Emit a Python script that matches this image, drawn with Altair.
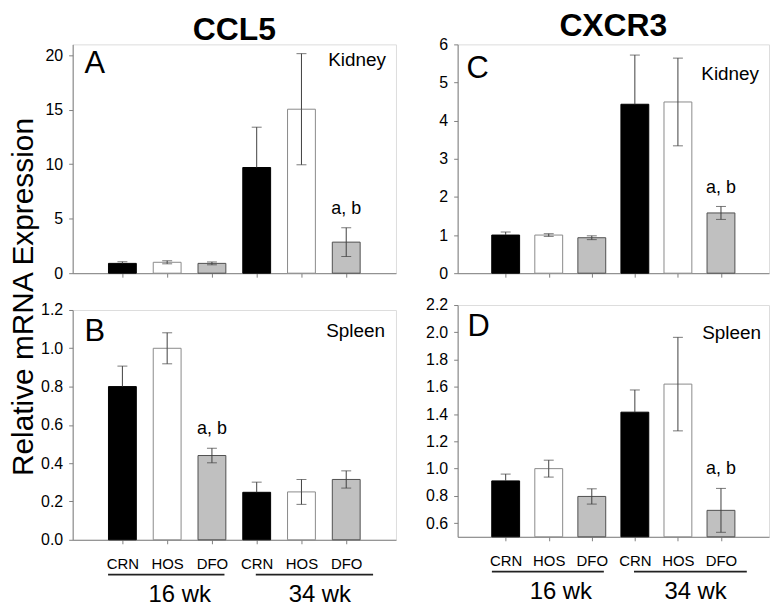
import altair as alt
import pandas as pd

# ---------------- data ----------------
positions = [1, 2, 3, 4, 5, 6]
treatments = ["CRN", "HOS", "DFO", "CRN", "HOS", "DFO"]
weeks = ["16 wk", "16 wk", "16 wk", "34 wk", "34 wk", "34 wk"]

ccl5_kidney_mean = [0.90, 1.00, 0.90, 9.70, 15.05, 2.85]
ccl5_kidney_err = [0.15, 0.14, 0.13, 3.70, 5.10, 1.32]
ccl5_kidney_sig = ["", "", "", "", "", "a, b"]

ccl5_spleen_mean = [0.80, 1.00, 0.44, 0.248, 0.25, 0.315]
ccl5_spleen_err = [0.107, 0.081, 0.038, 0.053, 0.065, 0.045]
ccl5_spleen_sig = ["", "", "a, b", "", "", ""]

cxcr3_kidney_mean = [1.00, 1.00, 0.93, 4.43, 4.49, 1.58]
cxcr3_kidney_err = [0.08, 0.035, 0.05, 1.29, 1.15, 0.17]
cxcr3_kidney_sig = ["", "", "", "", "", "a, b"]

cxcr3_spleen_mean = [0.91, 1.00, 0.796, 1.414, 1.62, 0.694]
cxcr3_spleen_err = [0.05, 0.062, 0.056, 0.163, 0.343, 0.161]
cxcr3_spleen_sig = ["", "", "", "", "", "a, b"]

ccl5_kidney_ticks = [0, 5, 10, 15, 20]
ccl5_spleen_ticks = [0.0, 0.2, 0.4, 0.6, 0.8, 1.0, 1.2]
cxcr3_kidney_ticks = [0, 1, 2, 3, 4, 5, 6]
cxcr3_spleen_ticks = [0.6, 0.8, 1.0, 1.2, 1.4, 1.6, 1.8, 2.0, 2.2]

y_title = "Relative mRNA Expression"

# ---------------- style ----------------
FONT = "Liberation Sans"
GRAY = "#808080"
EB = "#404040"
fill_scale = alt.Scale(domain=["CRN", "HOS", "DFO"], range=["#000000", "#ffffff", "#c0c0c0"])
stroke_scale = alt.Scale(domain=["CRN", "HOS", "DFO"], range=["#000000", "#8a8a8a", "#505050"])
bracket_pad = {"16 wk": (-0.32, 0.28, 0.30), "34 wk": (-0.02, 0.60, 0.12)}


def panel(mean, err, sig, letter, tissue, ydom, yticks, yfmt, w, h, bottom,
          letter_xy, tissue_xy, title=None, title_offset=0):
    df = pd.DataFrame({
        "pos": positions, "treat": treatments, "week": weeks, "mean": mean,
        "lo": [m - e for m, e in zip(mean, err)],
        "hi": [m + e for m, e in zip(mean, err)],
        "base": [ydom[0]] * len(mean), "sig": sig,
    })
    xaxis = alt.Axis(values=positions, title=None, grid=False, tickSize=4,
                     labels=bottom,
                     labelExpr="['','CRN','HOS','DFO','CRN','HOS','DFO'][datum.value]",
                     labelFontSize=15, labelPadding=13, labelColor="#000000",
                     labelFont=FONT, domainColor=GRAY, tickColor=GRAY)
    yaxis = alt.Axis(values=yticks, format=yfmt, title=None, grid=False, tickSize=4,
                     labelPadding=6, labelFontSize=16, labelColor="#000000",
                     labelFont=FONT, domainColor=GRAY, tickColor=GRAY)
    xs = alt.Scale(domain=[0, 7], nice=False, zero=False)
    ys = alt.Scale(domain=ydom, nice=False, zero=False)

    def X(f):
        return alt.X(f"{f}:Q", scale=xs, axis=xaxis)

    def Y(f):
        return alt.Y(f"{f}:Q", scale=ys, axis=yaxis)

    base = alt.Chart(df)
    bars = base.mark_bar(size=28, strokeWidth=1, orient="vertical").encode(
        x=X("pos"), y=Y("mean"), y2=alt.Y2("base:Q"),
        fill=alt.Fill("treat:N", scale=fill_scale, legend=None),
        stroke=alt.Stroke("treat:N", scale=stroke_scale, legend=None),
    )
    err_up = base.mark_rule(color=EB, strokeWidth=1).encode(
        x=X("pos"), y=Y("mean"), y2=alt.Y2("hi:Q"))
    err_dn = base.transform_filter("datum.treat != 'CRN'").mark_rule(
        color=EB, strokeWidth=1).encode(x=X("pos"), y=Y("lo"), y2=alt.Y2("mean:Q"))
    cap_up = base.mark_tick(orient="horizontal", size=10, thickness=1, color=EB).encode(
        x=X("pos"), y=Y("hi"))
    cap_dn = base.transform_filter("datum.treat != 'CRN'").mark_tick(
        orient="horizontal", size=10, thickness=1, color=EB).encode(x=X("pos"), y=Y("lo"))
    sig_txt = base.transform_filter("datum.sig != ''").mark_text(
        dy=-19, fontSize=18, font=FONT, baseline="middle").encode(
        x=X("pos"), y=Y("hi"), text="sig:N")
    let_txt = alt.Chart(pd.DataFrame({"t": [letter]})).mark_text(
        align="left", baseline="middle", fontSize=31, font=FONT).encode(
        x=alt.value(letter_xy[0]), y=alt.value(letter_xy[1]), text="t:N")
    tis_txt = alt.Chart(pd.DataFrame({"t": [tissue]})).mark_text(
        align="right", baseline="middle", fontSize=19, font=FONT).encode(
        x=alt.value(w - tissue_xy[0]), y=alt.value(tissue_xy[1]), text="t:N")

    layers = [bars, err_up, err_dn, cap_up, cap_dn, sig_txt, let_txt, tis_txt]

    if bottom:
        rows = []
        for wk in ["16 wk", "34 wk"]:
            ps = [p for p, k in zip(positions, weeks) if k == wk]
            a, b, c = bracket_pad[wk]
            s, e = min(ps) + a, max(ps) + b
            rows.append({"week": wk, "start": s, "end": e, "center": (s + e) / 2 + c})
        gdf = pd.DataFrame(rows)
        gline = alt.Chart(gdf).mark_rule(color="#222222", strokeWidth=1.6).encode(
            x=alt.X("start:Q", scale=xs, axis=xaxis), x2="end:Q", y=alt.value(h + 35))
        gtext = alt.Chart(gdf).mark_text(fontSize=24, font=FONT, baseline="middle").encode(
            x=alt.X("center:Q", scale=xs, axis=xaxis), y=alt.value(h + 56), text="week:N")
        layers += [gline, gtext]

    ch = alt.layer(*layers).properties(width=w, height=h)
    if title:
        ch = ch.properties(title=alt.TitleParams(title, fontSize=32, fontWeight="bold",
                                                 font=FONT, anchor="middle",
                                                 offset=title_offset, color="#000000"))
    return ch


A = panel(ccl5_kidney_mean, ccl5_kidney_err, ccl5_kidney_sig, "A", "Kidney",
          [0, 21], ccl5_kidney_ticks, "d", 325, 230, False, (12, 20), (10, 16),
          "CCL5", -3)
B = panel(ccl5_spleen_mean, ccl5_spleen_err, ccl5_spleen_sig, "B", "Spleen",
          [0, 1.2], ccl5_spleen_ticks, ".1f", 325, 231, True, (12, 22), (11, 21))
C = panel(cxcr3_kidney_mean, cxcr3_kidney_err, cxcr3_kidney_sig, "C", "Kidney",
          [0, 6], cxcr3_kidney_ticks, "d", 313, 230, False, (9, 25), (10, 30),
          "CXCR3", -7)
D = panel(cxcr3_spleen_mean, cxcr3_spleen_err, cxcr3_spleen_sig, "D", "Spleen",
          [0.5, 2.2], cxcr3_spleen_ticks, ".1f", 313, 233, True, (10, 22), (8, 28))

ylab = alt.Chart(pd.DataFrame({"t": [y_title]})).mark_text(
    angle=270, fontSize=30, font=FONT, baseline="alphabetic", align="center").encode(
    x=alt.value(24), y=alt.value(254), text="t:N"
).properties(width=20, height=500, view=alt.ViewBackground(stroke="transparent"))

left = alt.vconcat(A, B, spacing=19)
right = alt.vconcat(C, D, spacing=14)
chart = alt.hconcat(ylab, alt.hconcat(left, right, spacing=28), spacing=0).configure_view(
    stroke=GRAY, strokeWidth=1
).configure(font=FONT).properties(padding=0)

chart.save("out.html", embed_options={"renderer": "svg", "actions": False})
